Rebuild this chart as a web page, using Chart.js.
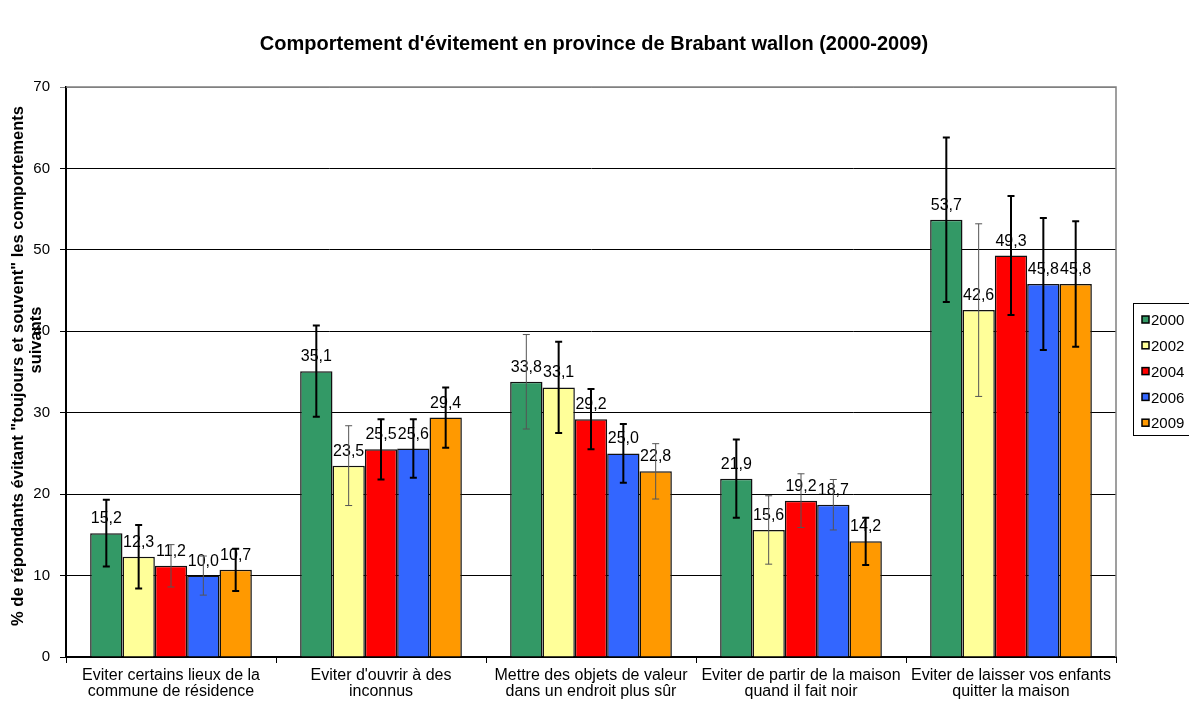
<!DOCTYPE html>
<html lang="fr">
<head>
<meta charset="utf-8">
<title>Comportement d'évitement</title>
<script src="https://cdn.jsdelivr.net/npm/chart.js@4.4.1/dist/chart.umd.min.js"></script>
<style>
  html, body { margin: 0; padding: 0; background: #fff; }
  #wrap { width: 1189px; height: 707px; position: relative; }
</style>
</head>
<body>
<div id="wrap"><canvas id="evitementChart"></canvas></div>
<script>
// Categories (x axis), two lines each
const categories = [
  ['Eviter certains lieux de la', 'commune de résidence'],
  ["Eviter d'ouvrir à des", 'inconnus'],
  ['Mettre des objets de valeur', 'dans un endroit plus sûr'],
  ['Eviter de partir de la maison', 'quand il fait noir'],
  ['Eviter de laisser vos enfants', 'quitter la maison']
];

const years = ['2000', '2002', '2004', '2006', '2009'];

// % values per year
const values2000 = [15.2, 35.1, 33.8, 21.9, 53.7];
const values2002 = [12.3, 23.5, 33.1, 15.6, 42.6];
const values2004 = [11.2, 25.5, 29.2, 19.2, 49.3];
const values2006 = [10.0, 25.6, 25.0, 18.7, 45.8];
const values2009 = [10.7, 29.4, 22.8, 14.2, 45.8];

// error bars (+/-)
const err2000 = [4.1, 5.6, 5.8, 4.8, 10.1];
const err2002 = [3.9, 4.9, 5.6, 4.2, 10.6];
const err2004 = [2.6, 3.7, 3.7, 3.3, 7.3];
const err2006 = [2.4, 3.6, 3.6, 3.1, 8.1];
const err2009 = [2.6, 3.7, 3.4, 2.9, 7.7];

const yTicks = [0, 10, 20, 30, 40, 50, 60, 70];

const chartTitle = "Comportement d'évitement en province de Brabant wallon (2000-2009)";
const yTitle = ['% de répondants évitant "toujours et souvent" les comportements', 'suivants'];

const seriesValues = [values2000, values2002, values2004, values2006, values2009];
const seriesErrors = [err2000, err2002, err2004, err2006, err2009];
const seriesColors = ['#339966', '#FFFF99', '#FF0000', '#3366FF', '#FF9900'];

// error bars drawn with a thin grey stroke in the original: "series-category"
const thinErrorBars = ['2-0', '3-0', '1-1', '0-2', '4-2', '1-3', '2-3', '3-3', '1-4'];

const fmt = v => v.toFixed(1).replace('.', ',');

// draws frame, value labels, error bars, titles and legend
const extrasPlugin = {
  id: 'extras',
  beforeDatasetsDraw(chart) {
    const { ctx, chartArea } = chart;
    ctx.save();
    ctx.strokeStyle = '#808080';
    ctx.lineWidth = 1.5;
    ctx.beginPath();
    ctx.moveTo(chartArea.left, chartArea.top);
    ctx.lineTo(chartArea.right, chartArea.top);
    ctx.lineTo(chartArea.right, chartArea.bottom);
    ctx.stroke();
    ctx.restore();
  },
  afterDatasetsDraw(chart) {
    const { ctx } = chart;
    const yScale = chart.scales.y;

    // value labels
    ctx.save();
    ctx.font = '16px Arial, "Liberation Sans", sans-serif';
    ctx.fillStyle = '#000';
    ctx.textAlign = 'center';
    ctx.textBaseline = 'alphabetic';
    chart.data.datasets.forEach((ds, si) => {
      chart.getDatasetMeta(si).data.forEach((bar, ci) => {
        ctx.fillText(fmt(ds.data[ci]), bar.x, bar.y - 10);
      });
    });
    ctx.restore();

    // error bars
    ctx.save();
    chart.data.datasets.forEach((ds, si) => {
      chart.getDatasetMeta(si).data.forEach((bar, ci) => {
        const v = ds.data[ci];
        const e = seriesErrors[si][ci];
        const yTop = yScale.getPixelForValue(v + e);
        const yBot = yScale.getPixelForValue(v - e);
        const thin = thinErrorBars.includes(si + '-' + ci);
        ctx.strokeStyle = thin ? '#555' : '#000';
        ctx.lineWidth = thin ? 1 : 2;
        ctx.beginPath();
        ctx.moveTo(bar.x, yTop);
        ctx.lineTo(bar.x, yBot);
        ctx.moveTo(bar.x - 3.5, yTop);
        ctx.lineTo(bar.x + 3.5, yTop);
        ctx.moveTo(bar.x - 3.5, yBot);
        ctx.lineTo(bar.x + 3.5, yBot);
        ctx.stroke();
      });
    });
    ctx.restore();
  },
  afterDraw(chart) {
    const { ctx } = chart;
    ctx.save();
    ctx.fillStyle = '#000';

    // main title
    ctx.font = 'bold 20px Arial, "Liberation Sans", sans-serif';
    ctx.textAlign = 'center';
    ctx.textBaseline = 'alphabetic';
    ctx.fillText(chartTitle, 594, 50);

    // y axis title, two lines
    ctx.font = 'bold 16.5px Arial, "Liberation Sans", sans-serif';
    ctx.textBaseline = 'middle';
    ctx.save();
    ctx.translate(18, 366);
    ctx.rotate(-Math.PI / 2);
    ctx.fillText(yTitle[0], 0, 0);
    ctx.restore();
    ctx.save();
    ctx.translate(36, 340);
    ctx.rotate(-Math.PI / 2);
    ctx.fillText(yTitle[1], 0, 0);
    ctx.restore();

    // legend
    const lx = 1133, ly = 303;
    ctx.strokeStyle = '#000';
    ctx.lineWidth = 1;
    ctx.strokeRect(lx + 0.5, ly + 0.5, 60, 132);
    ctx.font = '15px Arial, "Liberation Sans", sans-serif';
    ctx.textAlign = 'left';
    ctx.textBaseline = 'middle';
    years.forEach((yr, i) => {
      const cy = ly + 17 + i * 25.8;
      ctx.fillStyle = seriesColors[i];
      ctx.fillRect(lx + 9, cy - 4, 7, 7);
      ctx.strokeStyle = '#000';
      ctx.lineWidth = 1.5;
      ctx.strokeRect(lx + 9, cy - 4, 7, 7);
      ctx.fillStyle = '#000';
      ctx.fillText(yr, lx + 18, cy + 1);
    });
    ctx.restore();
  }
};

const datasets = years.map((yr, i) => ({
  label: yr,
  data: seriesValues[i],
  backgroundColor: seriesColors[i],
  borderColor: '#111',
  borderWidth: 1.5,
  categoryPercentage: 0.77,
  barPercentage: 1.0
}));

const chartCtx = document.getElementById('evitementChart').getContext('2d');
new Chart(chartCtx, {
  type: 'bar',
  data: {
    labels: categories,
    datasets: datasets
  },
  options: {
    responsive: true,
    maintainAspectRatio: false,
    animation: false,
    layout: {
      padding: { top: 87, right: 73, left: 0, bottom: 0 }
    },
    plugins: {
      legend: { display: false },
      title: { display: false },
      tooltip: { enabled: false }
    },
    scales: {
      x: {
        afterFit: (scale) => { scale.height = 50; },
        border: { color: '#000', width: 2 },
        grid: {
          offset: true,
          drawOnChartArea: false,
          color: '#000',
          tickLength: 6
        },
        ticks: {
          color: '#000',
          maxRotation: 0,
          autoSkip: false,
          padding: 5,
          font: { family: 'Arial, "Liberation Sans", sans-serif', size: 16, lineHeight: 1.0 }
        }
      },
      y: {
        min: 0,
        max: 70,
        afterFit: (scale) => { scale.width = 66; },
        afterBuildTicks: (scale) => { scale.ticks = yTicks.map(v => ({ value: v })); },
        border: { color: '#000', width: 2 },
        grid: {
          color: (c) => (c.tick && c.tick.value === 70 ? '#808080' : '#000'),
          lineWidth: 1,
          tickLength: 6
        },
        ticks: {
          color: '#000',
          padding: 10,
          font: { family: 'Arial, "Liberation Sans", sans-serif', size: 15 },
          callback: (v) => v
        }
      }
    }
  },
  plugins: [extrasPlugin]
});
</script>
</body>
</html>
